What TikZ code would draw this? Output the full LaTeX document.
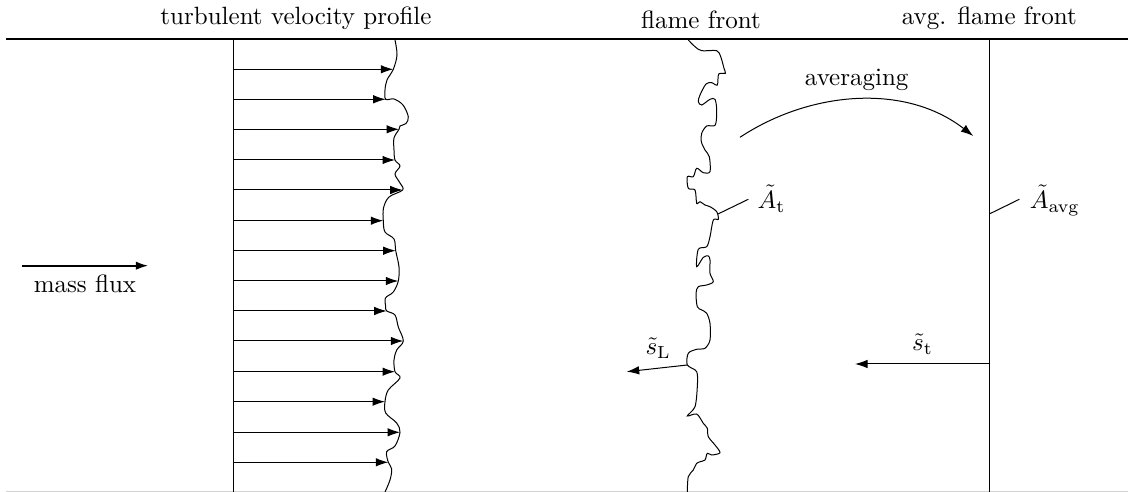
\documentclass[tikz,border=0pt]{standalone}
\usetikzlibrary{arrows.meta,calc}
\begin{document}
\begin{tikzpicture}[x=0.4pt,y=-0.4pt,
  thinline/.style={line width=0.4pt},
  boldline/.style={line width=0.8pt},
  tipped/.style={-{Latex[length=5pt,width=3.4pt]}},
  title/.style={anchor=south},
  sym/.style={anchor=base west,inner sep=0pt}]
\useasboundingbox (0,0) rectangle (1128,492);

% walls
\draw[boldline] (6,39.5) -- (1128,39.5);
\draw[gray!35,thinline] (6,491.5) -- (1128,491.5);

% titles
\node[title] (ttvp) at (296,38) {turbulent velocity profile};
\node[title] (ttff) at (701,38) {flame front};
\node[title] (ttaf) at (989.3,38) {avg. flame front};

% mass flux
\coordinate (mfa) at (21.7,265.7);
\coordinate (mfb) at (148.3,265.7);
\draw[boldline,tipped] (mfa) -- (mfb);
\node[below] (mf) at ($(mfa)!0.5!(mfb)$) {mass flux};

% turbulent velocity profile
\coordinate (vtop) at (233,40);
\coordinate (vbot) at (233,492);
\draw[thinline] (vtop) -- (vbot);
\draw[thinline] plot[smooth,tension=0.55] coordinates {
 (395,40) (397,55) (393.3,69.3) (387,80) (385,90) (385.7,99.3) (394,99) (403,105)
 (408.3,116.7) (406,123.5) (400,126) (399,129.3) (394,138) (394,150) (395,160) (400,166)
 (395,174) (400,183) (402.7,190) (389,197) (383.5,208) (383.3,220.7) (385,232) (394,239)
 (395.7,250.7) (399,267) (398.3,281) (393.3,292) (385.5,298) (385.7,306.7) (386.7,311)
 (395,315) (398.3,327) (403.3,341) (396.7,350) (394,360) (395,371.7) (400,378) (388.3,390)
 (385,401.7) (385.7,413) (396.7,423) (400,432.3) (395,446) (386.7,451.7) (388.3,462.3)
 (391.7,469) (390,480) (385,492)};
\foreach \i/\y/\x in {1/69.3/393.3, 2/99.3/385.7, 3/129.3/399, 4/160/395, 5/190/402.7,
  6/220.7/383.3, 7/250.7/395.7, 8/281/398.3, 9/311/386.7, 10/341/403.3, 11/371.7/395,
  12/401.7/385, 13/432.3/400, 14/462.3/388.3} {
  \coordinate (vb\i) at (233,\y);
  \coordinate (vt\i) at (\x,\y);
  \draw[thinline,tipped] (vb\i) -- (vt\i);
}

% wrinkled flame front
\draw[thinline] plot[smooth,tension=0.5] coordinates {
 (688.3,40) (695,46.7) (701.7,50.7) (716.7,50.7) (720.7,56.7) (724,68.3) (725.3,73.3)
 (718.7,74) (717.3,85) (711.7,82.7) (706,84) (700,95) (698.3,101.7) (701.7,105) (710,99.3)
 (715,99.3) (716.7,110) (715.3,125) (706.7,126) (701.7,133.3) (701.3,141.7) (705,150)
 (709.3,156.7) (710,171.7) (703.3,172.7) (696.7,168.3) (693.3,176.7) (687.3,176.7)
 (688.3,188.3) (695,190) (696.7,203.3) (700,201.7) (705,205) (710,206.7) (716.7,211.7)
 (718.3,219.3) (713.3,220) (710,236.7) (706.7,246.7) (698.3,249.3) (696.7,266.7)
 (703.3,257.3) (708.3,256) (710,260) (710,273.3) (713.3,281.7) (706.7,285) (698.3,286.7)
 (696,293.3) (697.3,306.7) (701.7,310) (706.7,313.3) (710,323.3) (710,340) (705,348.3)
 (696.7,349.3) (688.3,353.3) (687.3,365) (696.7,371.7) (697.3,386.7) (695,406.7)
 (687.3,416) (696.7,414) (703.3,423.3) (707.3,428.3) (708.3,436.7) (715,445) (720,452.7)
 (711.7,455) (707.3,453.3) (705,460) (700,461.7) (696.7,463.3) (693.3,470) (688.3,476.7)
 (687.3,492)};

% area and burning velocity of the wrinkled front
\coordinate (atb) at (718,214);
\coordinate (ate) at (748.3,199.3);
\draw[thinline] (atb) -- (ate);
\node[sym] (At) at (757,208.3) {$\tilde{A}_\mathrm{t}$};
\coordinate (slb) at (687.3,365);
\coordinate (sle) at (626.7,371.7);
\draw[thinline,tipped] (slb) -- (sle);
\node[sym] (sL) at (645,355) {$\tilde{s}_\mathrm{L}$};

% averaging
\coordinate (ava) at (740,137.3);
\coordinate (avb) at (973.3,136);
\draw[thinline,tipped] (ava) .. controls (810,91) and (905,83) .. (avb);
\node[anchor=base] (avg) at (856.7,86) {averaging};

% averaged flame front
\coordinate (aftop) at (989.3,40);
\coordinate (afbot) at (989.3,492);
\draw[thinline] (aftop) -- (afbot);
\coordinate (aab) at (989.3,214);
\coordinate (aae) at (1019.3,199.3);
\draw[thinline] (aab) -- (aae);
\node[sym] (Aavg) at (1029.3,208.3) {$\tilde{A}_\mathrm{avg}$};
\coordinate (stb) at (989.3,364);
\coordinate (ste) at (855,364);
\draw[thinline,tipped] (stb) -- (ste);
\node[sym] (st) at (911.7,350.7) {$\tilde{s}_\mathrm{t}$};
\end{tikzpicture}
\end{document}
